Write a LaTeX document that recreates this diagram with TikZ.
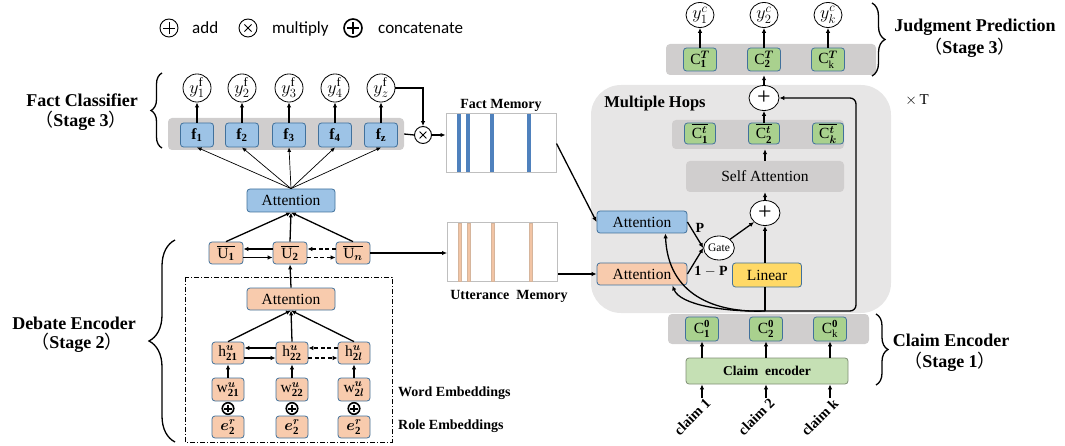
\documentclass[tikz,border=0pt]{standalone}
\usepackage{fix-cm}
\usepackage{amsmath,bm}
\usepackage{fontspec}
\setmainfont{Liberation Serif}
\newfontfamily\cjk{Noto Sans CJK SC}
\newfontfamily\legendfont{Carlito}
\usetikzlibrary{arrows.meta,shapes.geometric,decorations.pathreplacing,calc}
\definecolor{bluefill}{HTML}{9DC3E6}
\definecolor{boxline}{HTML}{41719C}
\definecolor{orfill}{HTML}{F8CBAD}
\definecolor{grfill}{HTML}{A9D18E}
\definecolor{bandgray}{HTML}{D0CECE}
\definecolor{hopbg}{HTML}{E7E6E6}
\definecolor{linfill}{HTML}{FFD966}
\definecolor{cefill}{HTML}{C5E0B4}
\definecolor{celine}{HTML}{7F8F74}
\definecolor{memgray}{HTML}{BFBFBF}
\definecolor{stripeb}{HTML}{4F81BD}
\definecolor{stripeo}{HTML}{F2C4A4}
\definecolor{stripeoline}{HTML}{D6B59C}
\begin{document}
\begin{tikzpicture}[x=1pt,y=-1pt,
  box/.style={draw=boxline, line width=0.8pt, rounded corners=3pt, inner sep=0pt, font=\fontsize{15.5}{15.5}\selectfont},
  bbox/.style={box, fill=bluefill},
  obox/.style={box, fill=orfill},
  gbox/.style={box, fill=grfill},
  bandbox/.style={fill=bandgray, rounded corners=4pt, inner sep=0pt},
  outc/.style={ellipse, draw, line width=0.8pt, fill=white, minimum width=28pt, minimum height=25pt, inner sep=0pt, font=\fontsize{18}{18}\selectfont},
  arr/.style={-{Latex[length=5pt,width=4.5pt]}, line width=1.3pt},
  tarr/.style={-{Latex[length=4.5pt,width=4pt]}, line width=0.7pt},
  darr/.style={arr, dash pattern=on 4pt off 2.5pt},
  lab/.style={font=\bfseries\fontsize{18}{18}\selectfont, inner sep=0pt},
  slab/.style={font=\bfseries\fontsize{14}{14}\selectfont, inner sep=0pt},
  legend/.style={font=\legendfont\fontsize{17}{17}\selectfont, inner sep=0pt},
  mem/.style={draw=memgray, line width=1pt, fill=white, minimum width=110pt, minimum height=59pt, inner sep=0pt},
  bracestyle/.style={decorate, decoration={brace, amplitude=#1}, line width=1.3pt},
  addsym/.style={circle, draw, line width=0.9pt, minimum size=#1, inner sep=0pt, fill=white, path picture={
     \draw[line width=0.9pt] ([yshift=-0.32*#1]path picture bounding box.center) -- ([yshift=0.32*#1]path picture bounding box.center)
     ([xshift=-0.32*#1]path picture bounding box.center) -- ([xshift=0.32*#1]path picture bounding box.center);}},
  catsym/.style={circle, draw, line width=1.6pt, minimum size=#1, inner sep=0pt, fill=white, path picture={
     \draw[line width=2pt] ([yshift=-0.34*#1]path picture bounding box.center) -- ([yshift=0.34*#1]path picture bounding box.center)
     ([xshift=-0.34*#1]path picture bounding box.center) -- ([xshift=0.34*#1]path picture bounding box.center);}},
  mulsym/.style={circle, draw, line width=0.9pt, minimum size=#1, inner sep=0pt, fill=white, path picture={
     \draw[line width=0.9pt] ([shift={(-0.2*#1,-0.2*#1)}]path picture bounding box.center) -- ([shift={(0.2*#1,0.2*#1)}]path picture bounding box.center)
     ([shift={(-0.2*#1,0.2*#1)}]path picture bounding box.center) -- ([shift={(0.2*#1,-0.2*#1)}]path picture bounding box.center);}},
  pluse/.style={ellipse, draw, line width=0.8pt, fill=white, minimum width=30pt, minimum height=25pt, inner sep=0pt, font=\fontsize{24}{24}\selectfont},
]
\useasboundingbox (0,0) rectangle (1065,446);

% ---------------- legend
\node[addsym=18] (lgadd) at (169,28) {};
\node[legend, anchor=base west] (lgaddt) at (192,34) {add};
\node[mulsym=18] (lgmul) at (248,28) {};
\node[legend, anchor=base west] (lgmult) at (272,34) {multiply};
\node[catsym=18] (lgcat) at (353,28) {};
\node[legend, anchor=base west] (lgcatt) at (378,34) {concatenate};

% ---------------- fact classifier
\node[lab] (fclab) at (82,100) {Fact Classifier};
\node[lab] (fcst) at (81,121) {{\cjk\mdseries （}Stage 3{\cjk\mdseries ）}};
\draw[bracestyle=11] (162,148) -- (162,73);
\node[bandbox, minimum width=236pt, minimum height=32pt] (fband) at (286,134) {};
\foreach \i/\x/\t in {1/197/1,2/242/2,3/289/3,4/335/4,5/381/z}{
  \node[bbox, minimum width=33pt, minimum height=24pt] (f\i) at (\x,135) {$\mathbf{f}_{\mathbf{\t}}$};
  \node[outc] (yf\i) at (\x,88) {$y^{\mathrm{f}}_{\t}$};
  \draw[arr] (f\i.north) -- (yf\i.south);
}
\node[mulsym=17] (mul) at (423,135) {};
\draw[arr] (yf5.east) -| (mul.north);
\draw[line width=1.3pt] (fband.east) -- (mul.west);
\node[mem] (fm) at (501,143.5) {};
\foreach \x in {459,468,492,529}{\fill[stripeb] (\x-1.7,114.5) rectangle (\x+1.7,172.5);}
\node[slab] (fmlab) at (501,105) {Fact Memory};
\draw[arr] (mul.east) -- (mul.east -| fm.west);

% ---------------- attention (fact)
\node[bbox, minimum width=88pt, minimum height=23pt] (att1) at (291,200.5) {Attention};
\foreach \i in {1,...,5}{\draw[tarr] (att1.north) -- (f\i.south);}

% ---------------- utterances
\node[obox, minimum width=34pt, minimum height=22pt] (u1) at (226,253) {$\overline{\mathrm{U}_{\mathbf{1}}}$};
\node[obox, minimum width=34pt, minimum height=22pt] (u2) at (290,253) {$\overline{\mathrm{U}_{\mathbf{2}}}$};
\node[obox, minimum width=34pt, minimum height=22pt] (un) at (353,253) {$\overline{\mathrm{U}_{\bm{n}}}$};
\draw[arr] ([yshift=4pt]u2.west) -- ([yshift=4pt]u1.east);
\draw[arr] ([yshift=-4.5pt]u1.east) -- ([yshift=-4.5pt]u2.west);
\draw[darr] ([yshift=4pt]un.west) -- ([yshift=4pt]u2.east);
\draw[darr] ([yshift=-4.5pt]u2.east) -- ([yshift=-4.5pt]un.west);
\foreach \u in {u1,u2,un}{\draw[arr] (\u.north) -- (att1.south);}

\node[mem] (um) at (502.5,252.5) {};
\foreach \x in {460,469,493,531}{\filldraw[fill=stripeo, draw=stripeoline, line width=0.3pt] (\x-1.6,223.5) rectangle (\x+1.6,281.5);}
\node[slab] (umlab) at (509,296) {Utterance\ \ Memory};
\draw[arr] (un.east) -- (un.east -| um.west);

% ---------------- debate encoder
\node[lab] (delab) at (74,323) {Debate Encoder};
\node[lab] (dest) at (77,343) {{\cjk\mdseries （}Stage 2{\cjk\mdseries ）}};
\draw[bracestyle=26] (175,442) -- (175,240);
\draw[line width=0.8pt, dash pattern=on 5pt off 2pt on 1pt off 2pt] (185,277) rectangle (392,442);
\node[obox, minimum width=88pt, minimum height=22pt] (att2) at (291,299) {Attention};
\draw[arr] (att2.north) -- (u2.south);
\foreach \i/\x/\t in {1/228/\mathbf{21},2/292/\mathbf{22},3/354/\mathbf{2}\bm{l}}{
  \node[obox, minimum width=32pt, minimum height=22pt] (h\i) at (\x,353) {$\mathrm{h}^{\bm{u}}_{\t}$};
  \node[obox, minimum width=32pt, minimum height=23pt] (w\i) at (\x,389.5) {$\mathrm{w}^{\bm{u}}_{\t}$};
  \node[catsym=11.5] (cat\i) at (\x,408.5) {};
  \node[obox, minimum width=32pt, minimum height=22pt] (e\i) at (\x,427) {$\bm{e}^{\bm{r}}_{\mathbf{2}}$};
  \draw[arr] (w\i.north) -- (h\i.south);
  \draw[arr] (h\i.north) -- (att2.south);
}
\draw[arr] ([yshift=5pt]h2.west) -- ([yshift=5pt]h1.east);
\draw[arr] ([yshift=-5pt]h1.east) -- ([yshift=-5pt]h2.west);
\draw[darr] ([yshift=5pt]h3.west) -- ([yshift=5pt]h2.east);
\draw[darr] ([yshift=-5pt]h2.east) -- ([yshift=-5pt]h3.west);
\node[slab, anchor=west] (welab) at (398,393) {Word Embeddings};
\node[slab, anchor=west] (relab) at (398,426) {Role Embeddings};

% ---------------- multiple hops
\fill[hopbg, rounded corners=30pt] (591,85) rectangle (891,313);
\node[font=\bfseries\fontsize{16.5}{16.5}\selectfont, inner sep=0pt] (mhlab) at (655,104) {Multiple Hops};
\node[font=\fontsize{15}{15}\selectfont, inner sep=0pt] (xt) at (917,100) {$\times$\,T};

% top judgment band
\node[bandbox, minimum width=210pt, minimum height=31pt] (tband) at (771,59.5) {};
\foreach \i/\x/\t/\s in {1/700/\mathbf{1}/1,2/764/\mathbf{2}/2,3/828/\mathrm{k}/k}{
  \node[gbox, minimum width=33pt, minimum height=23pt] (ct\i) at (\x,59.5) {$\mathrm{C}^{\bm{T}}_{\t}$};
  \node[outc] (yc\i) at (\x,15) {$y^{c}_{\s}$};
  \draw[arr] (ct\i.north) -- (yc\i.south);
}
\draw[bracestyle=13] (872,3) -- (872,76);
\node[lab] (jplab) at (975,27) {Judgment Prediction};
\node[lab] (jpst) at (970,48) {{\cjk\mdseries （}Stage 3{\cjk\mdseries ）}};

\node[pluse] (plt) at (764,98) {+};
\draw[arr] (plt.north) -- (plt.north |- tband.south);

\node[bandbox, minimum width=172pt, minimum height=29pt] (cband) at (758,134.5) {};
\foreach \i/\x/\t in {1/700/\mathbf{1},2/764/\mathbf{2},3/828/\bm{k}}{
  \node[gbox, minimum width=31pt, minimum height=21pt] (cb\i) at (\x,133.5) {$\overline{\mathrm{C}^{\bm{t}}_{\t}}$};
}
\draw[arr] (cb2.north) -- (plt.south);

\node[fill=bandgray, rounded corners=4pt, minimum width=158pt, minimum height=31pt, inner sep=0pt, font=\fontsize{15.5}{15.5}\selectfont] (sa) at (765,176.5) {Self Attention};
\draw[arr] (sa.north) -- (sa.north |- cband.south);
\node[pluse] (plm) at (765,213) {+};
\draw[arr] (plm.north) -- (sa.south);

\node[bbox, minimum width=90pt, minimum height=22pt] (ba) at (642,222) {Attention};
\node[obox, minimum width=90pt, minimum height=22pt] (oa) at (642,274) {Attention};
\node[ellipse, draw, line width=0.8pt, fill=white, minimum width=30pt, minimum height=24pt, inner sep=0pt, font=\fontsize{11.5}{11.5}\selectfont] (gate) at (719,248) {Gate};
\node[slab] (plab) at (700,228) {P};
\node[slab] (qlab) at (711,271) {1 $-$ P};
\draw[arr] (ba.east) -- (gate.west);
\draw[arr] (oa.east) -- (gate.west);
\draw[arr] (gate.north east) -- (plm.south west);
\node[box, fill=linfill, minimum width=69pt, minimum height=24pt] (lin) at (767,275) {Linear};

\draw[arr] (fm.east) -- (ba.west);
\draw[arr] (um.east |- oa.west) -- (oa.west);

% claim encoder
\node[bandbox, minimum width=201pt, minimum height=30pt] (c0band) at (768.5,329) {};
\foreach \i/\x/\t in {1/702/\mathbf{1},2/766/\mathbf{2},3/830/\mathrm{k}}{
  \node[gbox, minimum width=33pt, minimum height=24pt] (c0\i) at (\x,329) {$\mathrm{C}^{\mathbf{0}}_{\t}$};
}
\coordinate (src) at (765,311);
\draw[line width=1.3pt] (src) -- (src |- lin.south);
\draw[arr] (lin.north -| plm.south) -- (plm.south);
\draw[arr, rounded corners=6pt] (src) -- (856,311) -- (856,98) -- (plt.east);
\draw[arr] (src) .. controls (715,313) and (668,295) .. ([xshift=-22pt]ba.south east);
\draw[arr] (src) .. controls (725,312) and (680,305) .. ([xshift=-15pt]oa.south east);

\node[draw=celine, fill=cefill, line width=0.8pt, rounded corners=3pt, minimum width=162pt, minimum height=26pt, inner sep=0pt, font=\bfseries\fontsize{13.5}{13.5}\selectfont] (ce) at (767,371) {Claim\ \ encoder};
\foreach \i/\x/\t in {1/702/1,2/766/2,3/830/k}{
  \draw[arr] (ce.north -| c0\i.south) -- (c0\i.south);
  \coordinate (cla\i) at (\x,398);
  \draw[arr] (cla\i) -- (cla\i |- ce.south);
  \node[rotate=45, anchor=east, font=\bfseries\fontsize{14.5}{14.5}\selectfont, inner sep=0pt] (cl\i) at (\x+6,401) {claim \t};
}
\draw[bracestyle=12] (876,314) -- (876,385);
\node[lab] (celab) at (951,340) {Claim Encoder};
\node[lab] (cest) at (950,362) {{\cjk\mdseries （}Stage 1{\cjk\mdseries ）}};
\end{tikzpicture}
\end{document}
